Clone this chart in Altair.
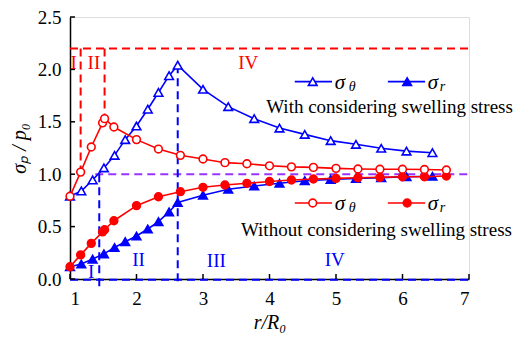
import altair as alt
import pandas as pd

# ---------------- data ----------------
# With considering swelling stress (blue)
blue_x = [1.0, 1.17, 1.34, 1.51, 1.67, 1.83, 2.0, 2.17, 2.33, 2.49, 2.62,
          3.0, 3.38, 3.77, 4.15, 4.53, 4.92, 5.30, 5.68, 6.06, 6.45]
blue_theta = [0.79, 0.84, 0.945, 1.06, 1.18, 1.33, 1.46, 1.62, 1.78, 1.94, 2.04,
              1.81, 1.645, 1.53, 1.44, 1.38, 1.32, 1.285, 1.247, 1.22, 1.205]
blue_r = [0.117, 0.143, 0.19, 0.24, 0.30, 0.356, 0.41, 0.477, 0.547, 0.64, 0.73,
          0.80, 0.856, 0.887, 0.913, 0.938, 0.95, 0.96, 0.967, 0.975, 0.98]

# Without considering swelling stress (red)
red_x = [1.0, 1.16, 1.32, 1.49, 1.52, 1.66, 2.0, 2.33, 2.66, 3.0, 3.33,
         3.66, 4.0, 4.33, 4.66, 5.0, 5.33, 5.66, 6.0, 6.33, 6.66]
red_theta = [0.79, 1.02, 1.26, 1.49, 1.53, 1.45, 1.33, 1.24, 1.18, 1.145, 1.11,
             1.10, 1.08, 1.07, 1.065, 1.056, 1.05, 1.047, 1.047, 1.045, 1.04]
red_r = [0.117, 0.23, 0.34, 0.45, 0.47, 0.556, 0.70, 0.785, 0.833, 0.875, 0.897,
         0.913, 0.93, 0.945, 0.954, 0.96, 0.966, 0.97, 0.976, 0.976, 0.983]

# axis ticks
x_ticks = [1, 2, 3, 4, 5, 6, 7]
y_ticks = [0.0, 0.5, 1.0, 1.5, 2.0, 2.5]

# dashed guide lines (zone borders)
guide_x1 = [1.0, 1.38, 1.0, 1.16, 1.52, 1.44, 2.62]
guide_x2 = [7.0, 7.0, 7.0, 1.16, 1.52, 1.44, 2.62]
guide_y1 = [2.2, 1.0, -0.008, 2.2, 2.2, 1.0, 2.04]
guide_y2 = [2.2, 1.0, -0.008, 1.02, 1.53, -0.07, -0.07]
guide_col = ["#ff0000", "#9933ff", "#0000ff", "#ff0000", "#ff0000", "#0000ff", "#0000ff"]

# zone labels
zone_text = ["I", "II", "IV", "I", "II", "III", "IV"]
zone_x = [1.055, 1.36, 3.68, 1.32, 2.03, 3.2, 4.98]
zone_y = [2.065, 2.065, 2.065, 0.07, 0.18, 0.17, 0.18]
zone_col = ["#ff0000", "#ff0000", "#ff0000", "#0000ff", "#0000ff", "#0000ff", "#0000ff"]

# legend layout (data units)
leg_line_x1 = [4.38, 5.78]
leg_line_x2 = [4.94, 6.34]
leg_mark_x = [4.65, 6.07]
leg_sigma_x = [4.98, 6.38]
leg_sub_x = [5.19, 6.56]
leg_sub_text = ["θ", "r"]
leg_row_y = [1.883, 0.725]
note_text = ["With considering swelling stress", "Without considering swelling stress"]
note_x = [3.95, 3.57]
note_y = [1.64, 0.47]

BLUE = "#0000ff"
RED = "#ff0000"
FONT = "Liberation Serif, Times New Roman, serif"
W, H = 399, 262

xs = alt.Scale(domain=[1, 7], nice=False, zero=False)
ys = alt.Scale(domain=[0, 2.5], nice=False, zero=False)


def X(field="x"):
    return alt.X(f"{field}:Q", scale=xs, axis=alt.Axis(
        values=x_ticks, format="d", ticks=False, grid=False,
        domainColor="black", domainWidth=1.5,
        labelFont=FONT, labelFontSize=19, labelColor="black", labelPadding=10,
        title="r/R₀", titleFont=FONT, titleFontSize=20, titleFontStyle="italic",
        titleFontWeight="normal", titleColor="black", titlePadding=4))


def Y(field="y"):
    return alt.Y(f"{field}:Q", scale=ys, axis=alt.Axis(
        values=y_ticks, format=".1f", ticks=False, grid=False,
        domainColor="black", domainWidth=1.5,
        labelFont=FONT, labelFontSize=19, labelColor="black", labelPadding=9,
        title="σₚ / p₀", titleFont=FONT, titleFontSize=20, titleFontStyle="italic",
        titleFontWeight="normal", titleColor="black", titlePadding=8))


layers = []

# guides
gdf = pd.DataFrame({"x": guide_x1, "x2": guide_x2, "y": guide_y1, "y2": guide_y2, "c": guide_col})
layers.append(alt.Chart(gdf).mark_rule(strokeWidth=2, strokeDash=[8, 5]).encode(
    x=X(), x2="x2:Q", y=Y(), y2="y2:Q", color=alt.Color("c:N", scale=None)))

# manual inward ticks
ytdf = pd.DataFrame({"y": y_ticks})
layers.append(alt.Chart(ytdf).mark_rule(color="black", strokeWidth=1.5).encode(
    x=alt.value(0), x2=alt.value(5), y=Y()))
xtdf = pd.DataFrame({"x": x_ticks})
layers.append(alt.Chart(xtdf).mark_rule(color="black", strokeWidth=1.5).encode(
    x=X(), y=alt.value(H), y2=alt.value(H - 5)))


def series(xv, yv, color, shape, open_marker):
    df = pd.DataFrame({"x": xv, "y": yv})
    base = alt.Chart(df)
    line = base.mark_line(color=color, strokeWidth=1.6).encode(x=X(), y=Y())
    pts = base.mark_point(shape=shape, size=60 if shape == "circle" else 75, filled=True,
                          fill="white" if open_marker else color, stroke=color,
                          strokeWidth=1.6, opacity=1).encode(x=X(), y=Y())
    return [line, pts]


layers += series(blue_x, blue_r, BLUE, "triangle-up", False)
layers += series(blue_x, blue_theta, BLUE, "triangle-up", True)
layers += series(red_x, red_r, RED, "circle", False)
layers += series(red_x, red_theta, RED, "circle", True)

# zone labels
zdf = pd.DataFrame({"x": zone_x, "y": zone_y, "t": zone_text, "c": zone_col})
layers.append(alt.Chart(zdf).mark_text(font=FONT, fontSize=19, align="center", baseline="middle").encode(
    x=X(), y=Y(), text="t:N", color=alt.Color("c:N", scale=None)))

# legends
for row, color in enumerate([BLUE, RED]):
    shape = "triangle-up" if row == 0 else "circle"
    msize = 75 if row == 0 else 60
    ldf = pd.DataFrame({"x": leg_line_x1, "x2": leg_line_x2, "y": [leg_row_y[row]] * 2})
    layers.append(alt.Chart(ldf).mark_rule(color=color, strokeWidth=1.6).encode(x=X(), x2="x2:Q", y=Y()))
    mdf = pd.DataFrame({"x": leg_mark_x, "y": [leg_row_y[row]] * 2})
    layers.append(alt.Chart(mdf.iloc[[0]]).mark_point(
        shape=shape, size=msize, filled=True, fill="white", stroke=color, strokeWidth=1.6, opacity=1
    ).encode(x=X(), y=Y()))
    layers.append(alt.Chart(mdf.iloc[[1]]).mark_point(
        shape=shape, size=msize, filled=True, fill=color, stroke=color, strokeWidth=1.6, opacity=1
    ).encode(x=X(), y=Y()))
    sdf = pd.DataFrame({"x": leg_sigma_x, "y": [leg_row_y[row] - 0.01] * 2, "t": ["σ", "σ"]})
    layers.append(alt.Chart(sdf).mark_text(font=FONT, fontSize=21, fontStyle="italic",
                                           align="left", baseline="middle", color="black").encode(
        x=X(), y=Y(), text="t:N"))
    subdf = pd.DataFrame({"x": leg_sub_x, "y": [leg_row_y[row] - 0.05] * 2, "t": leg_sub_text})
    layers.append(alt.Chart(subdf).mark_text(font=FONT, fontSize=14, fontStyle="italic",
                                             align="left", baseline="middle", color="black").encode(
        x=X(), y=Y(), text="t:N"))

ndf = pd.DataFrame({"x": note_x, "y": note_y, "t": note_text})
layers.append(alt.Chart(ndf).mark_text(font=FONT, fontSize=19, align="left", baseline="middle",
                                       color="black").encode(x=X(), y=Y(), text="t:N"))

chart = alt.layer(*layers).properties(
    width=W, height=H,
    autosize=alt.AutoSizeParams(type="none"),
    padding={"left": 62, "top": 9, "right": 46, "bottom": 56},
).configure_view(stroke=None).configure(background="white")

chart.save("out.html", embed_options={"renderer": "svg", "actions": False})
